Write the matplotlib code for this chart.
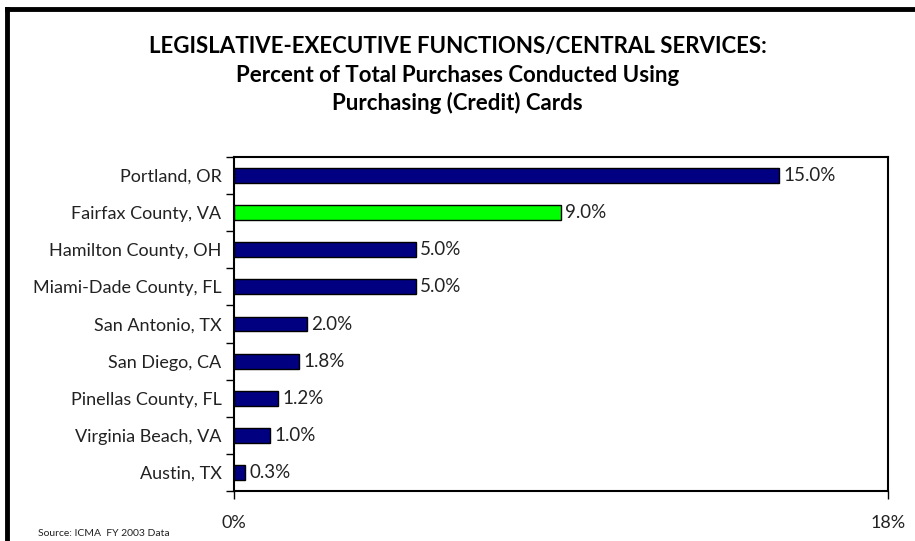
import matplotlib
matplotlib.use("Agg")
import matplotlib.pyplot as plt
from matplotlib.lines import Line2D

categories = ["Portland, OR", "Fairfax County, VA", "Hamilton County, OH",
              "Miami-Dade County, FL", "San Antonio, TX", "San Diego, CA",
              "Pinellas County, FL", "Virginia Beach, VA", "Austin, TX"]
values = [15.0, 9.0, 5.0, 5.0, 2.0, 1.8, 1.2, 1.0, 0.3]
highlight = "Fairfax County, VA"
xlim_max = 18
xtick_labels = ["0%", "18%"]

plt.rcParams['font.family'] = ['Lato', 'DejaVu Sans']

fig = plt.figure(figsize=(9.15, 5.41), dpi=100)
ax = fig.add_axes([234/915, 1-491/541, (888-234)/915, (491-157)/541])

n = len(categories)
ypos = list(range(n))
colors = ["#00FF00" if c == highlight else "#000080" for c in categories]
ax.barh(ypos, values, height=0.4, color=colors, edgecolor="black", linewidth=1)
for y, v in zip(ypos, values):
    ax.text(v + 0.12, y, f"{v:.1f}%", va="center", ha="left", fontsize=13.5, color="#222222")

ax.set_ylim(n - 0.5, -0.5)
ax.set_xlim(0, xlim_max)
ax.set_yticks(ypos)
ax.set_yticklabels(categories, fontsize=13, color="#222222")
ax.tick_params(axis='y', length=0, pad=9)
# boundary ticks
ax.set_yticks([i - 0.5 for i in range(n + 1)], minor=True)
ax.tick_params(axis='y', which='minor', length=6, width=1, direction='out')
ax.set_xticks([0, xlim_max])
ax.set_xticklabels(xtick_labels, fontsize=13, color="#222222")
ax.tick_params(axis='x', length=6, width=1, direction='out', pad=11)
for s in ax.spines.values():
    s.set_linewidth(1.5)

fig.text(0.5, 1-47/541, "LEGISLATIVE-EXECUTIVE FUNCTIONS/CENTRAL SERVICES:", ha="center", va="center",
         fontsize=16, fontweight="bold")
fig.text(0.5, 1-76/541, "Percent of Total Purchases Conducted Using", ha="center", va="center",
         fontsize=16, fontweight="bold")
fig.text(0.5, 1-103/541, "Purchasing (Credit) Cards", ha="center", va="center",
         fontsize=16, fontweight="bold")
fig.text(38/915, 1-534/541, "Source: ICMA  FY 2003 Data", ha="left", va="center", fontsize=7.5, color="#222222")

# outer frame (top and left)
fig.add_artist(Line2D([7/915, 7/915], [0, 1-9/541], transform=fig.transFigure, color="black", linewidth=3.5,
                      solid_capstyle="projecting"))
fig.add_artist(Line2D([7/915, 1], [1-9/541, 1-9/541], transform=fig.transFigure, color="black", linewidth=3.5,
                      solid_capstyle="projecting"))

fig.savefig("out.png", dpi=100)
